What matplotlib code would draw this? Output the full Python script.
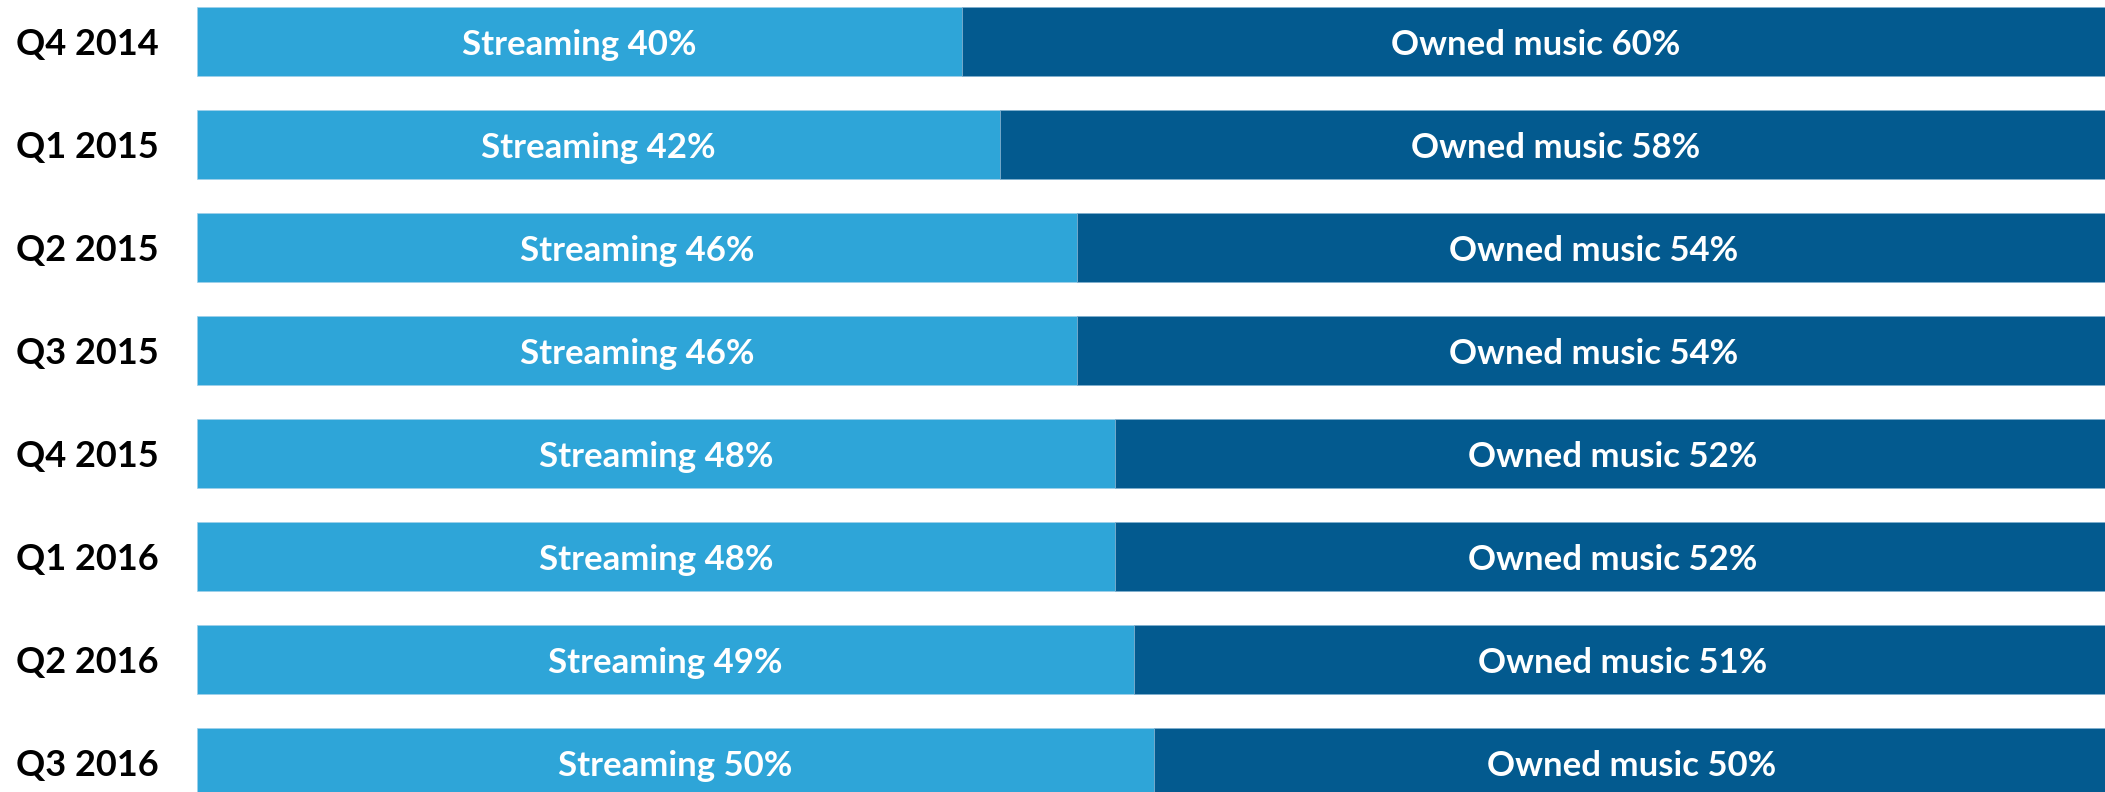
import numpy as np
from matplotlib import pyplot as plt

quarters = ['Q4 2014', 'Q1 2015', 'Q2 2015', 'Q3 2015', 'Q4 2015', 'Q1 2016', 'Q2 2016', 'Q3 2016']
streaming = [40, 42, 46, 46, 48, 48, 49, 50]
owned = [60, 58, 54, 54, 52, 52, 51, 50]

light = '#2EA5D8'
dark = '#035A8F'

plt.rcParams['font.family'] = ['Lato', 'DejaVu Sans']

fig = plt.figure(figsize=(21.05, 7.92), dpi=100)
ax = fig.add_axes([197 / 2105, 0, 1 - 197 / 2105, 1])

y = np.arange(len(quarters))
h = 0.67
ax.barh(y, streaming, height=h, color=light, edgecolor='#9fd0ea', linewidth=0.5)
ax.barh(y, owned, left=streaming, height=h, color=dark, edgecolor='#7fb0d0', linewidth=0.5)

for i in range(len(quarters)):
    ax.text(streaming[i] / 2, y[i] + 0.03, 'Streaming %d%%' % streaming[i], ha='center', va='center',
            color='white', fontsize=25, fontweight='bold')
    ax.text(streaming[i] + owned[i] / 2, y[i] + 0.03, 'Owned music %d%%' % owned[i], ha='center', va='center',
            color='white', fontsize=25, fontweight='bold')

ax.set_xlim(0, 100 * 1908 / 1913)
ax.set_ylim(792 / 103 - 41.6 / 103, -41.6 / 103)
ax.set_yticks(y)
ax.set_yticklabels(quarters, fontsize=26, fontweight='bold', ha='left')
ax.tick_params(axis='y', length=0, pad=130)
ax.set_xticks([])
for s in ax.spines.values():
    s.set_visible(False)

fig.savefig('out.png', dpi=100)
